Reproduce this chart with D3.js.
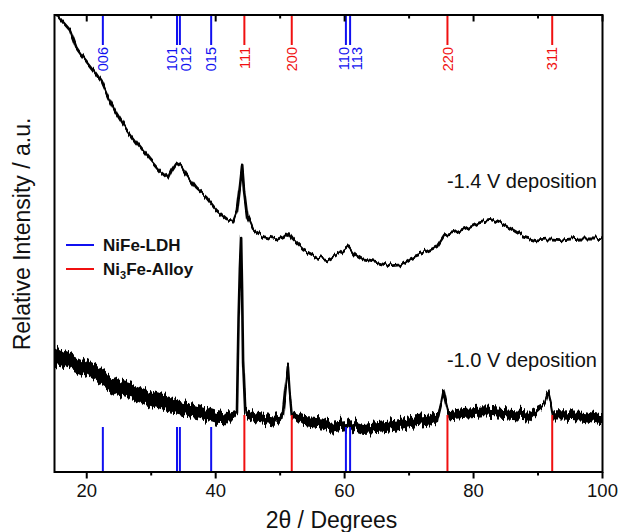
<!DOCTYPE html>
<html><head><meta charset="utf-8">
<script src="https://cdn.jsdelivr.net/npm/d3@7"></script>
<style>body{margin:0;background:#fff}svg{display:block}text{font-family:"Liberation Sans",Arial,sans-serif}</style>
</head><body><svg id="c" width="620" height="532"></svg>
<script>
// -1.4 V deposition pattern: 2theta and intensity (a.u.)
const theta14 = [15.0,15.6,17.4,18.4,19.2,21.0,22.3,23.3,24.6,26.2,27.7,29.8,31.4,32.6,33.2,33.9,34.7,35.5,37.0,38.6,40.1,41.7,42.7,43.3,43.8,44.1,44.4,44.9,45.8,47.4,49.4,50.5,51.2,52.0,53.6,55.6,57.4,59.3,60.6,61.6,62.9,65.0,67.0,68.6,70.1,72.2,74.3,75.5,77.4,79.4,81.0,82.5,84.1,85.6,87.7,89.8,91.8,93.9,96.5,99.1,100.0];
const int14 = [1010,996,967,928,912,880,854,821,785,748,720,683,657,643,661,676,668,650,621,600,573,554,551,573,632,672,617,559,530,515,508,515,524,508,486,471,464,479,493,475,464,458,451,453,468,479,493,519,526,537,548,553,545,534,516,508,510,508,512,512,510];
// -1.0 V deposition pattern: 2theta, mean intensity and noise band width (a.u.)
const theta10 = [15.0,16.9,19.5,22.1,24.6,27.2,29.8,32.4,35.0,37.5,40.1,42.2,43.3,43.55,43.75,43.95,44.1,44.25,44.6,46.1,49.2,50.4,50.9,51.2,51.45,51.8,53.5,56.6,58.0,60.3,60.8,61.3,62.9,65.5,68.1,70.5,73.2,74.5,75.0,75.3,75.7,76.1,78.4,81.5,84.6,88.7,91.0,91.6,92.0,92.3,93.9,97.0,99.6,100.0];
const int10 = [256,245,228,208,186,175,160,149,140,131,120,116,127,333,442,514,398,245,129,120,112,120,190,230,179,127,112,107,98,103,109,101,94,98,103,109,114,123,153,175,149,125,129,133,129,123,147,173,149,125,125,123,116,116];
const noise10 = [39,31,31,33,33,31,31,31,28,26,26,22,9,4,4,4,4,4,18,20,20,13,4,4,4,13,20,22,22,20,18,20,20,22,22,22,22,20,7,4,7,18,20,20,20,20,7,4,7,18,18,20,20,20];
// Reference reflections
const ldhPos = [22.5,34.0,34.45,39.3,60.2,60.85];
const ldhHkl = ["006","101","012","015","110","113"];
const alloyPos = [44.45,51.8,75.95,92.2];
const alloyHkl = ["111","200","220","311"];
const xTicks = [20,40,60,80,100];
const xMinor = [30,50,70,90];

const svg = d3.select("#c");
const L=54.5,R=602.5,T=15,B=472;
const x = d3.scaleLinear().domain([15,100]).range([L,R]);
const y = d3.scaleLinear().domain([0,1000]).range([B,T]);

const defs = svg.append("defs");
defs.append("clipPath").attr("id","clip").append("rect")
  .attr("x",L).attr("y",T).attr("width",R-L).attr("height",B-T);
// texture filters: vertical jitter that mimics counting noise of the trace
function jitter(id,freq,scale,seed){
  const f = defs.append("filter").attr("id",id).attr("filterUnits","userSpaceOnUse")
    .attr("x",0).attr("y",0).attr("width",620).attr("height",532);
  f.append("feTurbulence").attr("type","fractalNoise").attr("baseFrequency",freq+" 0.002")
    .attr("numOctaves",2).attr("seed",seed).attr("result","n");
  f.append("feColorMatrix").attr("in","n").attr("type","matrix")
    .attr("values","0 0 0 0 0.5  0 1 0 0 0  0 0 1 0 0  0 0 0 0 1").attr("result","m");
  f.append("feDisplacementMap").attr("in","SourceGraphic").attr("in2","m")
    .attr("scale",scale).attr("xChannelSelector","R").attr("yChannelSelector","G");
}
jitter("j14",0.35,8,3);
jitter("j10",0.4,16,7);

const gc = svg.append("g").attr("clip-path","url(#clip)");

const d14 = theta14.map((t,i)=>[t,int14[i]]);
gc.append("g").attr("filter","url(#j14)").append("path").datum(d14)
  .attr("fill","none").attr("stroke","#000").attr("stroke-width",2.8)
  .attr("stroke-linejoin","round")
  .attr("d",d3.line().x(d=>x(d[0])).y(d=>y(d[1])));

const d10 = theta10.map((t,i)=>[t,int10[i],noise10[i]]);
const g10 = gc.append("g").attr("filter","url(#j10)");
g10.append("path").datum(d10).attr("fill","#000")
  .attr("d",d3.area().x(d=>x(d[0])).y0(d=>y(d[1]-d[2]*0.55)).y1(d=>y(d[1]+d[2]*0.55)));
g10.append("path").datum(d10).attr("fill","none").attr("stroke","#000").attr("stroke-width",2.6)
  .attr("stroke-linejoin","round")
  .attr("d",d3.line().x(d=>x(d[0])).y(d=>y(d[1])));

// sticks
const topLen = 30, labelY = 47;
const ldhDx = {"101":-5,"012":5.5,"110":-2.5,"113":7};
function sticks(pos,hkl,color,h){
  pos.forEach((p,i)=>{
    svg.append("line").attr("x1",x(p)).attr("x2",x(p)).attr("y1",T).attr("y2",T+topLen)
      .attr("stroke",color).attr("stroke-width",2);
    svg.append("line").attr("x1",x(p)).attr("x2",x(p)).attr("y1",B).attr("y2",B-h)
      .attr("stroke",color).attr("stroke-width",2);
    const lx = x(p)+(ldhDx[hkl[i]]||0);
    svg.append("text").attr("x",lx).attr("y",labelY).attr("dy","0.36em")
      .attr("transform",`rotate(-90,${lx},${labelY})`).attr("text-anchor","end")
      .attr("fill",color).attr("font-size",14.5).text(hkl[i]);
  });
}
sticks(ldhPos,ldhHkl,"#1010f0",45);
sticks(alloyPos,alloyHkl,"#f01010",57);

// frame
svg.append("rect").attr("x",L).attr("y",T).attr("width",R-L).attr("height",B-T)
  .attr("fill","none").attr("stroke","#000").attr("stroke-width",2);
// ticks
xTicks.forEach(t=>{
  svg.append("line").attr("x1",x(t)).attr("x2",x(t)).attr("y1",B).attr("y2",B+6.5).attr("stroke","#000").attr("stroke-width",2);
  svg.append("line").attr("x1",x(t)).attr("x2",x(t)).attr("y1",T).attr("y2",T+6.5).attr("stroke","#000").attr("stroke-width",2);
  svg.append("text").attr("x",x(t)).attr("y",497).attr("text-anchor","middle").attr("font-size",18.5).attr("fill","#111").text(t);
});
xMinor.forEach(t=>{
  svg.append("line").attr("x1",x(t)).attr("x2",x(t)).attr("y1",B).attr("y2",B+3.5).attr("stroke","#000").attr("stroke-width",2);
  svg.append("line").attr("x1",x(t)).attr("x2",x(t)).attr("y1",T).attr("y2",T+3.5).attr("stroke","#000").attr("stroke-width",2);
});

// titles
svg.append("text").attr("x",(L+R)/2+3).attr("y",528).attr("text-anchor","middle").attr("font-size",23).attr("fill","#111").text("2θ / Degrees");
svg.append("text").attr("transform","translate(30,234) rotate(-90)").attr("text-anchor","middle").attr("font-size",23).attr("fill","#111").text("Relative Intensity / a.u.");

// annotations
svg.append("text").attr("x",597).attr("y",188).attr("text-anchor","end").attr("font-size",20).attr("fill","#111").text("-1.4 V deposition");
svg.append("text").attr("x",597).attr("y",367).attr("text-anchor","end").attr("font-size",20).attr("fill","#111").text("-1.0 V deposition");

// legend
svg.append("line").attr("x1",66).attr("x2",94).attr("y1",245).attr("y2",245).attr("stroke","#1010f0").attr("stroke-width",2);
svg.append("text").attr("x",103).attr("y",251).attr("font-size",17).attr("font-weight","bold").attr("fill","#111").text("NiFe-LDH");
svg.append("line").attr("x1",66).attr("x2",94).attr("y1",269).attr("y2",269).attr("stroke","#f01010").attr("stroke-width",2);
const lt = svg.append("text").attr("x",103).attr("y",275).attr("font-size",17).attr("font-weight","bold").attr("fill","#111");
lt.append("tspan").text("Ni");
lt.append("tspan").attr("font-size",11).attr("dy",4).text("3");
lt.append("tspan").attr("dy",-4).text("Fe-Alloy");
</script></body></html>
